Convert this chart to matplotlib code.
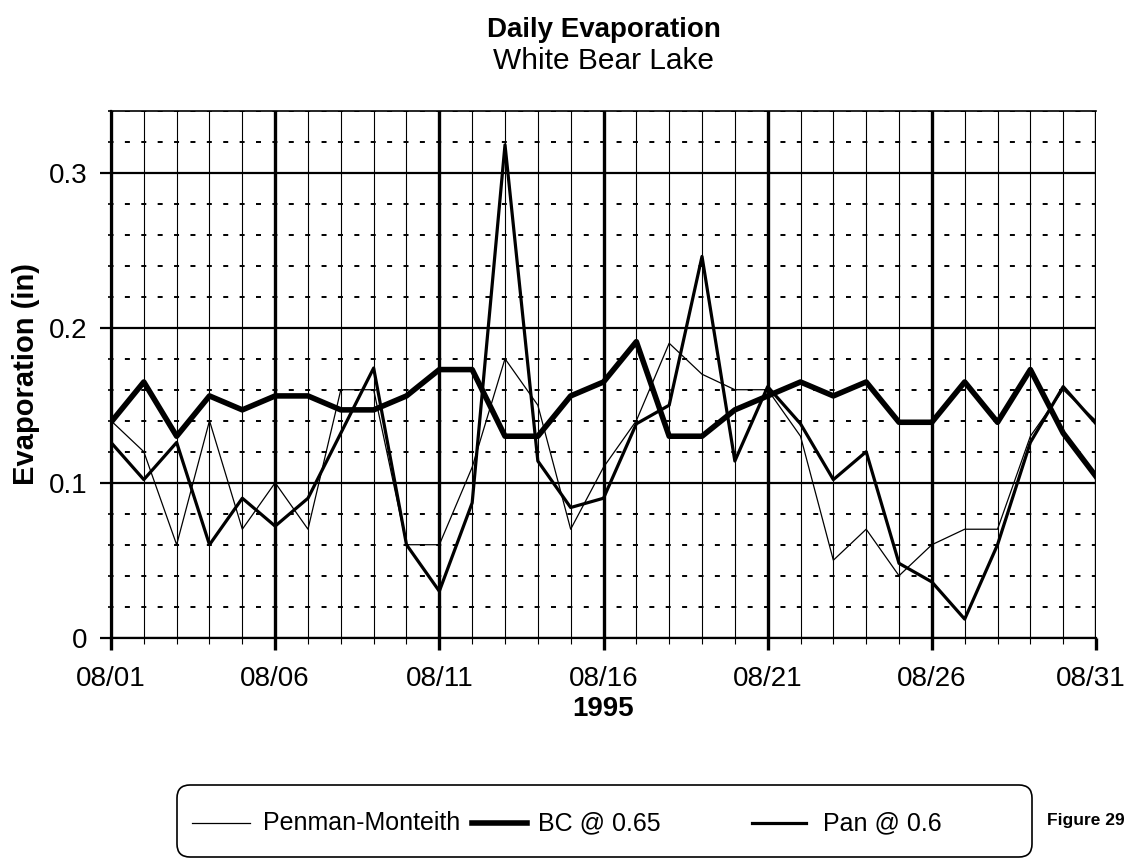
import matplotlib
matplotlib.use("Agg")
import matplotlib.pyplot as plt
from matplotlib.ticker import FixedLocator, MultipleLocator
from matplotlib.lines import Line2D
from matplotlib.patches import FancyBboxPatch
from matplotlib.transforms import ScaledTranslation

plt.rcParams['font.family'] = ['Liberation Sans', 'DejaVu Sans']
plt.rcParams['lines.scale_dashes'] = False

# === Data (August 1995, inches/day) ===
days = list(range(1, 32))
tick_days = [1, 6, 11, 16, 21, 26, 31]
tick_labels = ['08/01', '08/06', '08/11', '08/16', '08/21', '08/26', '08/31']

penman = [0.14, 0.12, 0.06, 0.14, 0.07, 0.10, 0.07, 0.16, 0.16, 0.06,
          0.06, 0.11, 0.18, 0.15, 0.07, 0.11, 0.14, 0.19, 0.17, 0.16,
          0.16, 0.13, 0.05, 0.07, 0.04, 0.06, 0.07, 0.07, 0.13, 0.16, 0.14]
bc = [0.139, 0.165, 0.130, 0.156, 0.147, 0.156, 0.156, 0.147, 0.147, 0.156,
      0.173, 0.173, 0.130, 0.130, 0.156, 0.165, 0.191, 0.130, 0.130, 0.147,
      0.156, 0.165, 0.156, 0.165, 0.139, 0.139, 0.165, 0.139, 0.173, 0.132, 0.104]
pan = [0.126, 0.102, 0.126, 0.060, 0.090, 0.072, 0.090, 0.132, 0.174, 0.060,
       0.030, 0.087, 0.318, 0.114, 0.084, 0.090, 0.138, 0.150, 0.246, 0.114,
       0.162, 0.138, 0.102, 0.120, 0.048, 0.036, 0.012, 0.060, 0.126, 0.162, 0.138]

labels = ['Penman-Monteith', 'BC @ 0.65', 'Pan @ 0.6']
widths = [0.9, 4.0, 2.3]

fig = plt.figure(figsize=(11.29, 8.59), dpi=100)
ax = fig.add_axes([0.0983, 0.2576, 0.8725, 0.6135])

for vals, lw in zip([penman, bc, pan], widths):
    ax.plot(days, vals, color='black', lw=lw, zorder=3)

ax.set_xlim(1, 31)
ax.set_ylim(0, 0.34)

ax.xaxis.set_major_locator(FixedLocator(tick_days))
ax.xaxis.set_minor_locator(MultipleLocator(1))
ax.set_xticklabels(tick_labels)
ax.yaxis.set_major_locator(FixedLocator([0, 0.1, 0.2, 0.3]))
ax.yaxis.set_minor_locator(MultipleLocator(0.02))
ax.set_yticklabels(['0', '0.1', '0.2', '0.3'])

# grid: thin daily lines, thick every 5 days, dashed minor rows
ax.set_axisbelow(True)
ax.grid(which='minor', axis='x', color='black', lw=0.8)
ax.grid(which='major', axis='x', color='black', lw=2.4)
ax.grid(which='major', axis='y', color='black', lw=1.6)
ax.grid(which='minor', axis='y', color='black', lw=1.4, linestyle=(1.8, (3.6, 8.2)))

ax.tick_params(axis='x', which='major', length=8.6, width=2.4, pad=12, labelsize=20)
ax.tick_params(axis='x', which='minor', length=4.3, width=0.8)
ax.tick_params(axis='y', which='major', length=8, width=1.6, pad=9, labelsize=20)
ax.tick_params(axis='y', which='minor', length=2, width=1.2)

# keep the last date label inside the figure
last = ax.get_xticklabels()[-1]
last.set_transform(last.get_transform() + ScaledTranslation(-4 / 72, 0, fig.dpi_scale_trans))

ax.spines['right'].set_visible(False)
ax.spines['top'].set_linewidth(1.2)
ax.spines['left'].set_linewidth(1.6)
ax.spines['bottom'].set_linewidth(1.6)

ax.set_xlabel('1995', fontsize=20, fontweight='bold', labelpad=3)
ax.set_ylabel('Evaporation (in)', fontsize=21, fontweight='bold')
ax.yaxis.set_label_coords(-0.072, 0.5)

fig.text(0.5346, 0.965, 'Daily Evaporation', ha='center', va='center',
         fontsize=20, fontweight='bold')
fig.text(0.5346, 0.929, 'White Bear Lake', ha='center', va='center', fontsize=21.5)

# === Legend box (inches) ===
tr = fig.dpi_scale_trans
box = FancyBboxPatch((1.77, 0.02), 8.55, 0.72, boxstyle='round,pad=0,rounding_size=0.13',
                     transform=tr, facecolor='white', edgecolor='black', lw=1.2)
fig.add_artist(box)
handle_x = [(1.92, 2.50), (4.72, 5.27), (7.52, 8.06)]
text_x = [2.63, 5.38, 8.23]
ly = 0.36
for lab, lw, (x0, x1), tx in zip(labels, widths, handle_x, text_x):
    fig.add_artist(Line2D([x0, x1], [ly, ly], transform=tr, color='black', lw=lw))
    fig.text(tx, ly, lab, transform=tr, va='center', ha='left', fontsize=18)

fig.text(10.47, 0.38, 'Figure 29', transform=tr, va='center', ha='left',
         fontsize=12.5, fontweight='bold')

fig.savefig('out.png', dpi=100, facecolor='white')
